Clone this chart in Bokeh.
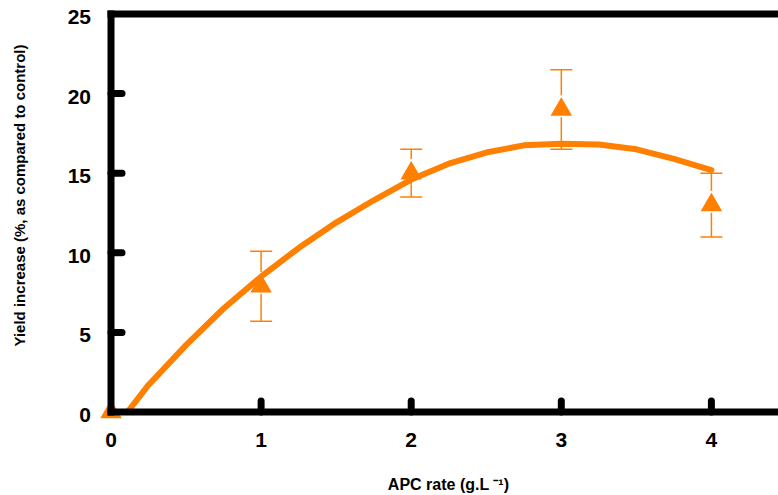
import math
from bokeh.plotting import figure
from bokeh.models import Range1d, Whisker, ColumnDataSource, TeeHead
from bokeh.core.properties import value
from bokeh.embed import file_html
from bokeh.resources import INLINE

# ---- data ----
apc_rate = [0, 1, 2, 3, 4]
yield_increase = [0, 7.9, 15.0, 19.0, 13.0]
yield_error = [0, 2.2, 1.5, 2.5, 2.0]

fit_x = [0.11, 0.25, 0.5, 0.75, 1.0, 1.25, 1.5, 1.75, 2.0, 2.25, 2.5, 2.75, 3.0, 3.25, 3.5, 3.75, 4.0]
fit_y = [0.0, 1.7, 4.2, 6.5, 8.5, 10.3, 11.9, 13.3, 14.6, 15.6, 16.3, 16.75, 16.85, 16.8, 16.5, 15.9, 15.2]

x_ticks = [0, 1, 2, 3, 4]
y_ticks = [0, 5, 10, 15, 20, 25]
x_tick_labels = ["0", "1", "2", "3", "4"]
y_tick_labels = ["0", "5", "10", "15", "20", "25"]

x_title = "APC rate (g.L \u207b\u00b9)"
y_title = "Yield increase (%, as compared to control)"

ORANGE = "#FF8000"
FONT = value("Liberation Sans")

# the frame covers the whole canvas; axes are drawn as glyphs
X_START, X_END = -0.7362, 4.447
Y_START, Y_END = -5.245, 25.848

p = figure(width=778, height=495, output_backend="svg", toolbar_location=None,
           x_range=Range1d(X_START, X_END), y_range=Range1d(Y_START, Y_END),
           x_axis_location=None, y_axis_location=None,
           min_border_left=0, min_border_right=0, min_border_top=0, min_border_bottom=0)
p.outline_line_color = None
p.grid.grid_line_color = None
p.background_fill_color = "white"
p.border_fill_color = "white"

# error bars (behind markers)
err_idx = [i for i, e in enumerate(yield_error) if e > 0]
err_src = ColumnDataSource(data=dict(
    x=[apc_rate[i] for i in err_idx],
    upper=[yield_increase[i] + yield_error[i] for i in err_idx],
    lower=[yield_increase[i] - yield_error[i] for i in err_idx],
))
wh = Whisker(base="x", upper="upper", lower="lower", source=err_src,
             line_color=ORANGE, line_width=1.5, level="underlay",
             upper_head=TeeHead(size=22, line_color=ORANGE, line_width=1.5),
             lower_head=TeeHead(size=22, line_color=ORANGE, line_width=1.5))
p.add_layout(wh)

# markers
p.scatter(apc_rate, yield_increase, marker="triangle", size=24,
          fill_color=ORANGE, line_color="white", line_width=1.5)

# fitted curve
p.line(fit_x, fit_y, line_width=6, line_color=ORANGE, line_join="round", line_cap="round")

# axis lines at data zero, plus top frame line
x0, y0 = x_ticks[0], y_ticks[0]
p.segment(x0=[x0, x0, x0], y0=[y0, y0, y_ticks[-1]],
          x1=[x0, X_END, X_END], y1=[y_ticks[-1], y0, y_ticks[-1]],
          line_width=7, line_color="black", line_cap="square")

# inward ticks
p.ray(x=[x0] * (len(y_ticks) - 2), y=y_ticks[1:-1], length=11, length_units="screen",
      angle=0, line_width=7, line_color="black", line_cap="round")
p.ray(x=x_ticks[1:], y=[y0] * (len(x_ticks) - 1), length=11, length_units="screen",
      angle=math.pi / 2, line_width=7, line_color="black", line_cap="round")

# tick labels
p.text(x=[x0] * len(y_ticks), y=y_ticks, text=y_tick_labels, x_offset=-20, y_offset=3,
       text_align="right", text_baseline="middle", text_font=FONT,
       text_font_style="bold", text_font_size="21px", text_color="black")
p.text(x=x_ticks, y=[y0] * len(x_ticks), text=x_tick_labels, y_offset=21,
       text_align="center", text_baseline="top", text_font=FONT,
       text_font_style="bold", text_font_size="21px", text_color="black")

# axis titles
p.text(x=[x0], y=[13.6], text=[y_title], x_offset=-91.5, angle=math.pi / 2,
       text_align="center", text_baseline="middle", text_font=FONT,
       text_font_style="bold", text_font_size="15px", text_color="black")
p.text(x=[2.249], y=[y0], text=[x_title], y_offset=72.5,
       text_align="center", text_baseline="middle", text_font=FONT,
       text_font_style="bold", text_font_size="16px", text_color="black")

open("out.html", "w").write(file_html(p, INLINE))
